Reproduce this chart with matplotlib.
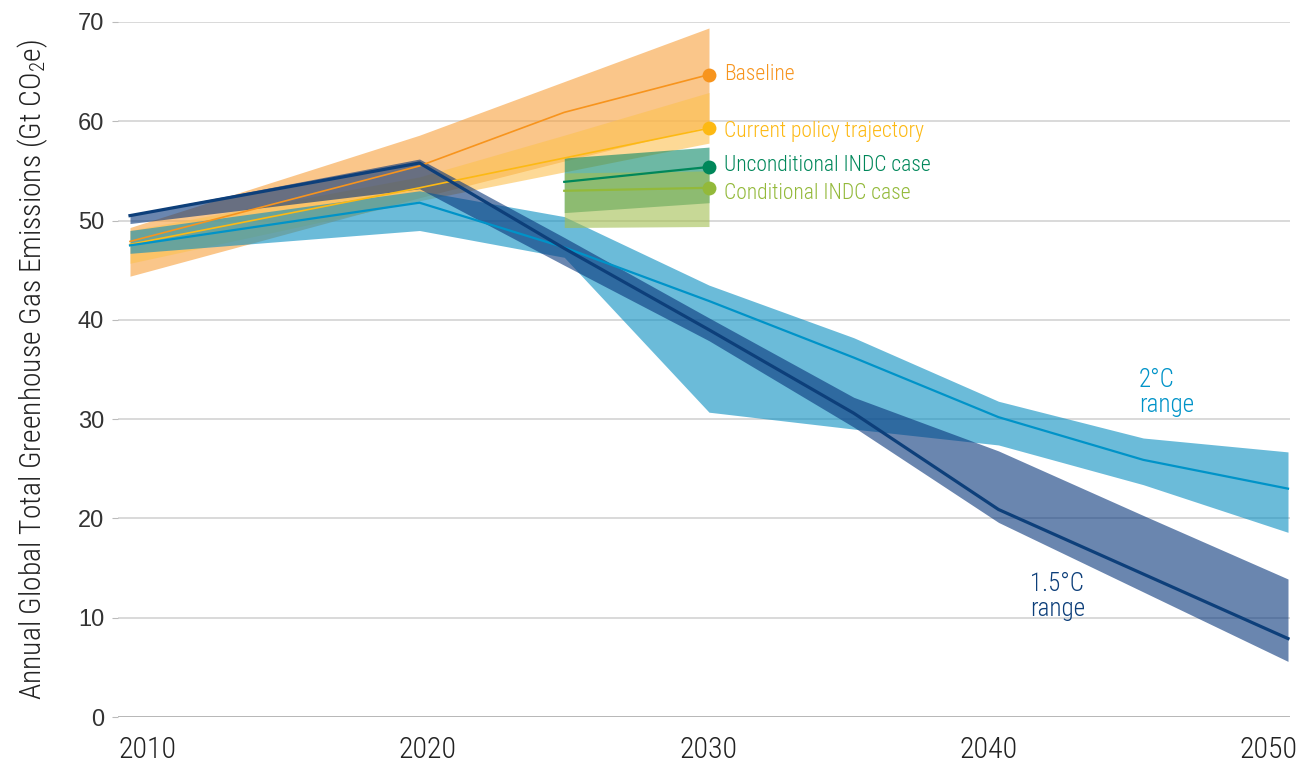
import matplotlib
matplotlib.use("Agg")
import matplotlib.pyplot as plt
from matplotlib import font_manager as fm

# ---------------- data ----------------
years_ndc = [2010, 2020, 2025, 2030]
baseline_mid = [47.9, 55.5, 60.9, 64.7]
baseline_hi = [49.3, 58.6, 64.0, 69.4]
baseline_lo = [44.4, 52.3, 56.0, 59.5]

policy_mid = [47.6, 53.3, 56.3, 59.3]
policy_hi = [49.0, 54.4, 58.6, 62.9]
policy_lo = [45.7, 52.0, 54.9, 57.8]

years_indc = [2025, 2030]
uncond_mid = [53.9, 55.4]
uncond_hi = [56.3, 57.4]
uncond_lo = [50.8, 51.8]
cond_mid = [53.0, 53.3]
cond_hi = [54.8, 55.0]
cond_lo = [49.3, 49.4]

years_path = [2010, 2020, 2025, 2030, 2035, 2040, 2045, 2050]
c2_mid = [47.5, 51.8, 47.3, 41.9, 36.2, 30.2, 25.9, 23.0]
c2_hi = [49.0, 53.0, 50.4, 43.5, 38.2, 31.8, 28.1, 26.7]
c2_lo = [46.7, 49.0, 46.3, 30.7, 29.0, 27.4, 23.4, 18.6]

c15_mid = [50.5, 55.8, 47.2, 39.0, 30.6, 20.9, 14.4, 7.9]
c15_hi = [50.6, 56.2, 48.3, 40.2, 32.2, 26.8, 20.3, 13.9]
c15_lo = [49.7, 53.2, 45.5, 37.9, 29.2, 19.6, 12.6, 5.6]

x_tick_labels = ["2010", "2020", "2030", "2040", "2050"]
y_ticks = [0, 10, 20, 30, 40, 50, 60, 70]

# ---------------- fonts ----------------
names = {f.name for f in fm.fontManager.ttflist}
cond_font = next((n for n in ["Roboto Condensed", "Barlow Semi Condensed", "Archivo Narrow",
                              "Asap Condensed", "Barlow Condensed"] if n in names), "DejaVu Sans")
tick_font = next((n for n in ["Liberation Sans", "Arimo", "DejaVu Sans"] if n in names), "DejaVu Sans")
CF = [cond_font, "DejaVu Sans"]
W = "light"
plt.rcParams["mathtext.fontset"] = "custom"
plt.rcParams["mathtext.rm"] = f"{cond_font}:light"
plt.rcParams["mathtext.it"] = f"{cond_font}:light"
plt.rcParams["mathtext.bf"] = f"{cond_font}:light"

# ---------------- colours ----------------
C_BASE = "#f7941d"
C_POL = "#fdb913"
C_UNC = "#00875a"
C_CON = "#93b93a"
C_2 = "#0093c8"
C_15 = "#0d3f7a"

fig = plt.figure(figsize=(13.1, 7.68), dpi=100)
ax = fig.add_axes([118 / 1310, 51 / 768, 1172 / 1310, 695 / 768])

# bands
ax.fill_between(years_ndc, baseline_lo, baseline_hi, color="#f8a03c", alpha=0.6, lw=0)
ax.plot(years_ndc, baseline_mid, color=C_BASE, lw=1.2)
ax.fill_between(years_ndc, policy_lo, policy_hi, color="#fdc150", alpha=0.6, lw=0)
ax.plot(years_ndc, policy_mid, color=C_POL, lw=1.2)

ax.fill_between(years_path, c2_lo, c2_hi, color="#088ec1", alpha=0.6, lw=0)
ax.plot(years_path, c2_mid, color=C_2, lw=1.6)
ax.fill_between(years_path, c15_lo, c15_hi, color="#07357b", alpha=0.6, lw=0)
ax.plot(years_path, c15_mid, color=C_15, lw=2.3)

ax.fill_between(years_indc, uncond_lo, uncond_hi, color="#0c8967", alpha=0.6, lw=0)
ax.plot(years_indc, uncond_mid, color=C_UNC, lw=1.6)
ax.fill_between(years_indc, cond_lo, cond_hi, color="#a3be50", alpha=0.6, lw=0)
ax.plot(years_indc, cond_mid, color=C_CON, lw=1.6)

# end markers and labels
ends = [(baseline_mid[-1], C_BASE, "Baseline", 0),
        (policy_mid[-1], C_POL, "Current policy trajectory", -2),
        (uncond_mid[-1], C_UNC, "Unconditional INDC case", 1),
        (cond_mid[-1], C_CON, "Conditional INDC case", -4)]
for val, col, lab, dy in ends:
    ax.plot([2030], [val], "o", color=col, ms=10, mec="none", zorder=5)
    ax.annotate(lab, (2030, val), xytext=(11, dy), textcoords="offset points",
                va="center", ha="left", color=col, fontsize=15.5, family=CF, weight=W)

ax.text(2044.85, 32.7, "2°C\nrange", color=C_2, fontsize=18, family=CF, weight=W,
        va="center", ha="left", linespacing=1.05)
ax.text(2041.1, 12.1, "1.5°C\nrange", color=C_15, fontsize=18, family=CF, weight=W,
        va="center", ha="left", linespacing=1.05)

# axes
ax.set_xlim(2010 - 12 / 28.95, 2010 - 12 / 28.95 + 1172 / 28.95)
ax.set_ylim(0, 70)
for s in ax.spines.values():
    s.set_visible(False)
for yv in y_ticks:
    ax.axhline(yv, color="#aaaaaa" if yv == 0 else "#d3d3d3", lw=1.2, zorder=0)
ax.set_yticks(y_ticks)
ax.set_yticklabels([str(v) for v in y_ticks], family=tick_font, fontsize=17, color="#333333")
ax.tick_params(axis="y", length=4, color="#bbbbbb", pad=6)
label_pos = [2010.62, 2020.29, 2029.97, 2039.64, 2049.31]
ax.set_xticks(label_pos)
ax.set_xticklabels(x_tick_labels, family=CF, fontsize=21.5, color="#222222", weight=W)
ax.tick_params(axis="x", length=0, pad=14)

ax.set_ylabel("Annual Global Total Greenhouse Gas Emissions (Gt CO$_{\\mathrm{2}}$e)", family=CF,
              fontsize=21.3, color="#222222", labelpad=20, weight=W)

fig.savefig("out.png", dpi=100)
